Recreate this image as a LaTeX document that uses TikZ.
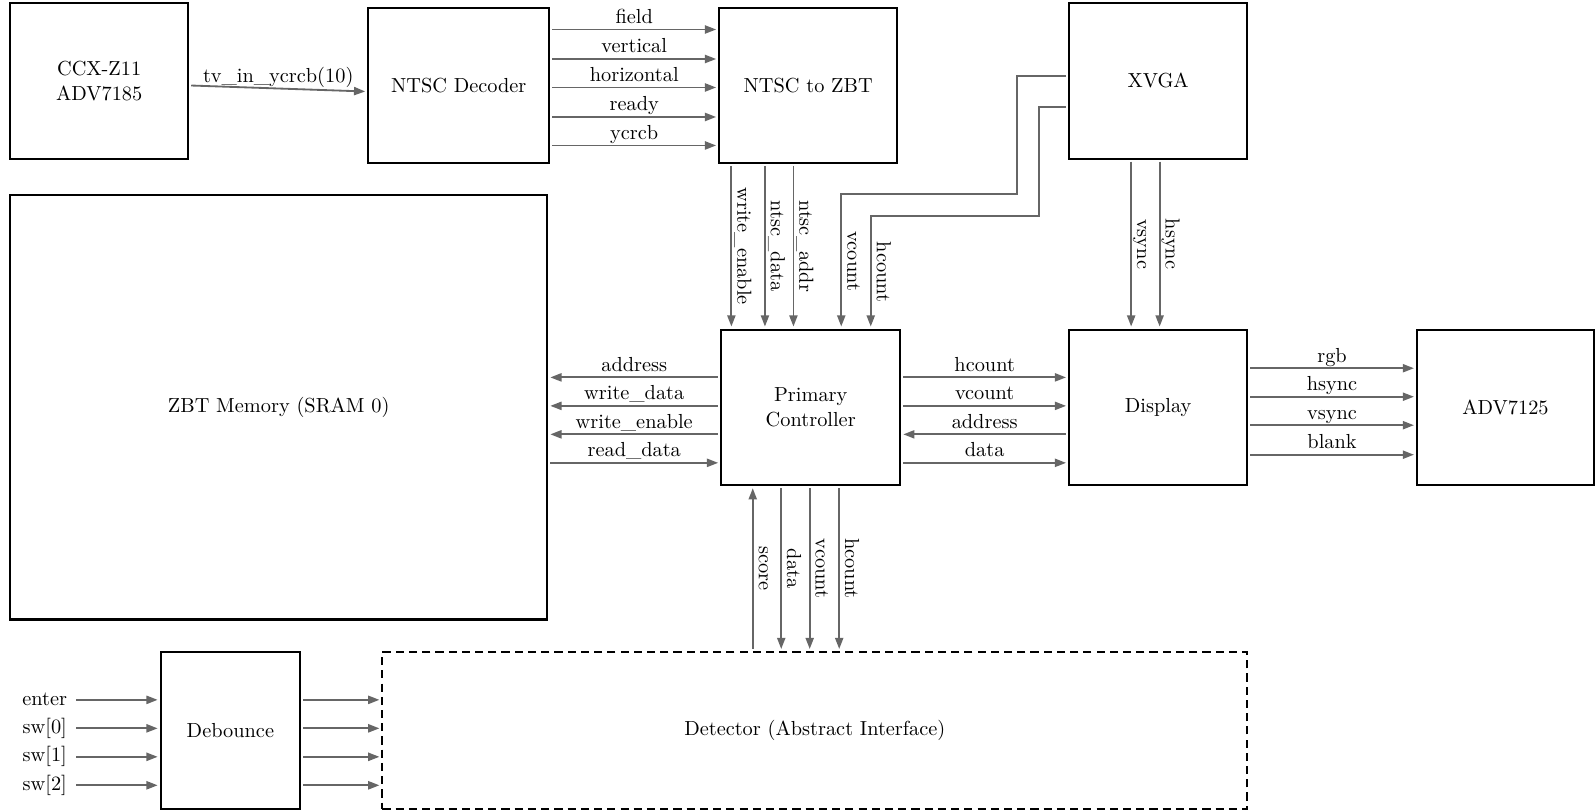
\documentclass[tikz,border=0pt]{standalone}
\usetikzlibrary{arrows.meta,positioning,calc}
\definecolor{wiregray}{RGB}{102,102,102}

\begin{document}
\begin{tikzpicture}[x=0.5pt,y=-0.5pt,
  blk/.style={draw,line width=1pt,align=center,inner sep=2pt},
  sig/.style={draw=wiregray,line width=0.9pt,>={Triangle[length=5.5pt,width=4pt]},shorten >=1pt,shorten <=1pt},
  lbl/.style={inner sep=2.5pt,text depth=0pt,anchor=south},
  vlbl/.style={lbl,rotate=-90}]
  \useasboundingbox (0,0) rectangle (1568,797);
  \node[blk,minimum width=87.5pt,minimum height=76.5pt] (ccx) at (97.5,79.5) {CCX-Z11\\ADV7185};
  \node[blk,minimum width=89pt,minimum height=76pt] (dec) at (451,84) {NTSC Decoder};
  \node[blk,minimum width=87.5pt,minimum height=76pt] (ntz) at (794.5,84) {NTSC to ZBT};
  \node[blk,minimum width=87.5pt,minimum height=76.5pt] (xvga) at (1138.5,79.5) {XVGA};
  \node[blk,minimum width=264pt,minimum height=208.5pt] (zbt) at (274,400.5) {ZBT Memory (SRAM 0)};
  \node[blk,minimum width=88pt,minimum height=76.5pt] (pc) at (797,400.5) {Primary\\Controller};
  \node[blk,minimum width=87.5pt,minimum height=76.5pt] (disp) at (1138.5,400.5) {Display};
  \node[blk,minimum width=87pt,minimum height=76.5pt] (adv) at (1480,400.5) {ADV7125};
  \node[blk,minimum width=68.5pt,minimum height=77pt] (deb) at (226.5,718) {Debounce};
  \node[blk,dash pattern=on 4pt off 2.5pt,minimum width=425pt,minimum height=77pt] (det) at (801,718) {Detector (Abstract Interface)};

  \draw[sig,->] ($(ccx.east)+(0,4.5)$) -- ($(dec.west)+(0,6)$) node[lbl,midway]{tv\_in\_ycrcb(10)};
  \foreach \dy/\txt in {22/field,51/vertical,79/horizontal,108/ready,136/ycrcb}
    \draw[sig,->] ($(dec.north east)+(0,\dy)$) -- ($(ntz.north west)+(0,\dy)$) node[lbl,midway]{\txt};
  \foreach \dx/\txt in {13/write\_enable,46/ntsc\_data,74/ntsc\_addr}
    \draw[sig,->] ($(ntz.south west)+(\dx,0)$) coordinate (s) -- (s |- pc.north) node[vlbl,midway]{\txt};

  \draw[sig,->] ($(xvga.north west)+(0,73)$) -- ++(-50,0) -- ++(0,116) -| ($(pc.north west)+(119,0)$) node[vlbl,pos=0.75]{vcount};
  \draw[sig,->] ($(xvga.north west)+(0,103)$) -- ++(-29,0) -- ++(0,107) -| ($(pc.north west)+(148,0)$) node[vlbl,pos=0.75]{hcount};
  \foreach \dx/\txt in {62/vsync,90/hsync}
    \draw[sig,->] ($(xvga.south west)+(\dx,0)$) coordinate (s) -- (s |- disp.north) node[vlbl,midway]{\txt};

  \foreach \dy/\txt/\dir in {48/address/<-,76/write\_data/<-,104/write\_enable/<-,132/read\_data/->}{
    \path ($(pc.north west)+(0,\dy)$) coordinate (s);
    \draw[sig,\dir] (zbt.east |- s) -- (s) node[lbl,midway]{\txt};
  }
  \foreach \dy/\txt/\dir in {48/hcount/->,76/vcount/->,104/address/<-,132/data/->}
    \draw[sig,\dir] ($(pc.north east)+(0,\dy)$) coordinate (s) -- (s -| disp.west) node[lbl,midway]{\txt};
  \foreach \dy/\txt in {39/rgb,67/hsync,95/vsync,124/blank}
    \draw[sig,->] ($(disp.north east)+(0,\dy)$) coordinate (s) -- (s -| adv.west) node[lbl,midway]{\txt};

  \draw[sig,->] ($(det.north west)+(365,0)$) coordinate (s) -- (s |- pc.south) node[vlbl,midway]{score};
  \foreach \dx/\txt in {60/data,88/vcount,117/hcount}
    \draw[sig,->] ($(pc.south west)+(\dx,0)$) coordinate (s) -- (s |- det.north) node[vlbl,midway]{\txt};

  \foreach \dy/\nm/\txt in {48/en/enter,76/s0/sw[0],104/s1/sw[1],132/s2/sw[2]}{
    \node (\nm) at ($(deb.north west)+(-113,\dy)$) {\txt};
    \draw[sig,->] (\nm) -- (\nm -| deb.west);
    \draw[sig,->] (\nm -| deb.east) -- (\nm -| det.west);
  }
\end{tikzpicture}
\end{document}
